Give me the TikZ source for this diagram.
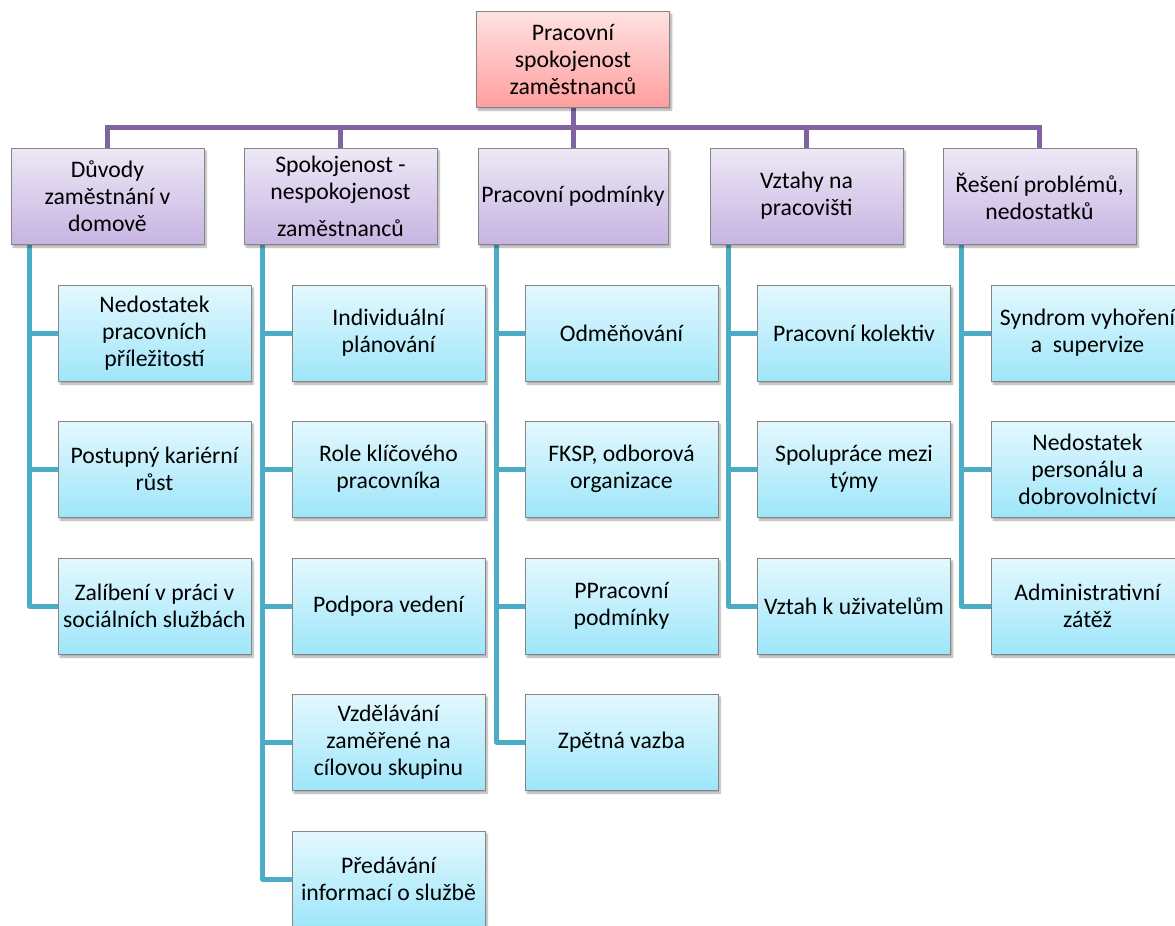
\documentclass[tikz,border=0pt]{standalone}
\usepackage{fontspec}
\setmainfont{Carlito}
\usetikzlibrary{shadows.blur,backgrounds}
\definecolor{plc}{HTML}{8064A2}
\definecolor{tlc}{HTML}{4BACC6}
\definecolor{brd}{HTML}{858585}
\tikzset{
  box/.style={draw=brd, line width=1pt, align=center, inner xsep=1pt, inner ysep=2pt,
    font=\fontsize{23.7}{27}\selectfont,
    blur shadow={shadow blur steps=6, shadow xshift=2pt, shadow yshift=-3pt, shadow opacity=35}},
  rootbox/.style={box, top color={rgb,255:red,255;green,226;blue,226}, bottom color={rgb,255:red,255;green,158;blue,158},
    minimum width=193pt, minimum height=96pt},
  catbox/.style={box, top color={rgb,255:red,238;green,232;blue,246}, bottom color={rgb,255:red,198;green,180;blue,226},
    minimum width=193pt, minimum height=96pt},
  leafbox/.style={box, top color={rgb,255:red,228;green,248;blue,254}, bottom color={rgb,255:red,158;green,230;blue,250},
    minimum width=193pt, minimum height=96pt},
  pline/.style={draw=plc, line width=5pt},
  tline/.style={draw=tlc, line width=5pt, line join=round},
}
\begin{document}
\begin{tikzpicture}[x=1pt,y=1pt]
\useasboundingbox (0,0) rectangle (1175,-926);
% root
\node[rootbox] (top) at (573,-59) {Pracovní\\spokojenost\\zaměstnanců};
% categories
\node[catbox] (c1) at (107.5,-196) {Důvody\\zaměstnání v\\domově};
\node[catbox] (c2) at (340.5,-196) {Spokojenost -\\nespokojenost\\[10pt]zaměstnanců};
\node[catbox, minimum width=190pt] (c3) at (573,-196) {Pracovní podmínky};
\node[catbox] (c4) at (806.5,-196) {Vztahy na\\pracovišti};
\node[catbox] (c5) at (1039.5,-196) {Řešení problémů,\\nedostatků};
% column 1
\node[leafbox] (l11) at (154.5,-333) {Nedostatek\\pracovních\\příležitostí};
\node[leafbox] (l12) at (154.5,-469) {Postupný kariérní\\růst};
\node[leafbox] (l13) at (154.5,-606) {Zalíbení v práci v\\sociálních službách};
% column 2
\node[leafbox] (l21) at (388.5,-333) {Individuální\\plánování};
\node[leafbox] (l22) at (388.5,-469) {Role klíčového\\pracovníka};
\node[leafbox] (l23) at (388.5,-606) {Podpora vedení};
\node[leafbox] (l24) at (388.5,-742) {Vzdělávání\\zaměřené na\\cílovou skupinu};
\node[leafbox] (l25) at (388.5,-879) {Předávání\\informací o službě};
% column 3
\node[leafbox] (l31) at (621.5,-333) {Odměňování};
\node[leafbox] (l32) at (621.5,-469) {FKSP, odborová\\organizace};
\node[leafbox] (l33) at (621.5,-606) {PPracovní\\podmínky};
\node[leafbox] (l34) at (621.5,-742) {Zpětná vazba};
% column 4
\node[leafbox] (l41) at (854,-333) {Pracovní kolektiv};
\node[leafbox] (l42) at (854,-469) {Spolupráce mezi\\týmy};
\node[leafbox] (l43) at (854,-606) {Vztah k uživatelům};
% column 5
\node[leafbox] (l51) at (1087.5,-333) {Syndrom vyhoření\\a~~supervize};
\node[leafbox] (l52) at (1087.5,-469) {Nedostatek\\personálu a\\dobrovolnictví};
\node[leafbox] (l53) at (1087.5,-606) {Administrativní\\zátěž};
\begin{scope}[on background layer]
% purple bar
\coordinate (bar) at (0,-127);
\draw[pline] (c1.north) -- (c1.north |- bar) -- (c5.north |- bar) -- (c5.north);
\draw[pline] (top.south) -- (c3.north);
\draw[pline] (c2.north) -- (c2.north |- bar);
\draw[pline] (c4.north) -- (c4.north |- bar);
% teal spines
\draw[tline] ([xshift=19pt]c1.south west) |- (l13.west);
\draw[tline] ([xshift=19pt]c2.south west) |- (l25.west);
\draw[tline] ([xshift=19pt]c3.south west) |- (l34.west);
\draw[tline] ([xshift=19pt]c4.south west) |- (l43.west);
\draw[tline] ([xshift=19pt]c5.south west) |- (l53.west);
\foreach \n in {l11,l12,l21,l22,l23,l24,l31,l32,l33,l41,l42,l51,l52}{
  \draw[tline] (\n.west) -- ++(-29pt,0);
}
\end{scope}
\end{tikzpicture}
\end{document}
